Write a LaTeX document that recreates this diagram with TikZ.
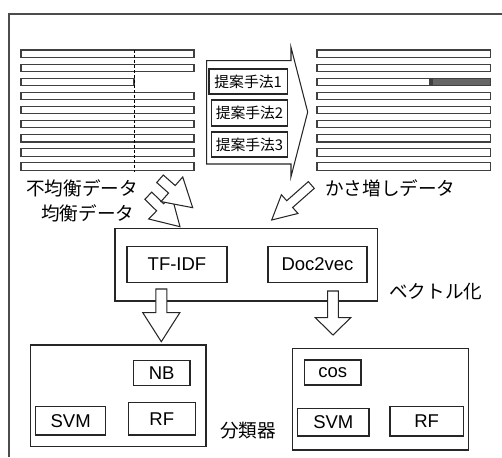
\documentclass[tikz,border=0pt]{standalone}
\usepackage{fontspec}
\setmainfont{Liberation Sans}
\newfontfamily\jp{Noto Sans CJK JP}
\usetikzlibrary{calc}

% outline of a hollow block arrow: tail, tip, shaft half-width, head half-width, head length
\newcommand\hollowarrow[5]{%
  \coordinate (neck) at ($(#2)!#5!(#1)$);
  \draw[hollow] ($(#1)!#3!90:(#2)$) -- ($(neck)!#3!90:(#2)$) -- ($(neck)!#4!90:(#2)$)
    -- (#2) -- ($(neck)!#4!-90:(#2)$) -- ($(neck)!#3!-90:(#2)$) -- ($(#1)!#3!-90:(#2)$) -- cycle;
}

\begin{document}
\begin{tikzpicture}[x=1pt,y=-1pt,
  line join=miter,
  ink/.style={draw=black!85, line width=1.05pt},
  box/.style={ink, fill=white, inner sep=0pt, anchor=center},
  bar/.style={draw=black!75, line width=1.05pt, fill=white},
  hollow/.style={ink, fill=white},
  lat/.style={font=\fontsize{18.5}{20}\selectfont},
  meth/.style={font=\jp\fontsize{14.8}{16}\selectfont},
  jlab/.style={font=\jp\fontsize{18.6}{20}\selectfont, anchor=west, inner sep=0pt}]
\useasboundingbox (0,0) rectangle (502,457);

% outer frame (top and left edges)
\draw[draw=black!70, line width=1.1pt] (502,14) -- (9,14) -- (9,457);

% original documents
\foreach \i in {0,1,3,4,5,6,7,8}
  \draw[bar] (21,{50+14.05*\i}) rectangle (194,{57.7+14.05*\i});
\draw[bar] (21,{50+14.05*2}) rectangle (134,{57.7+14.05*2});
\draw[black, line width=0.8pt, dash pattern=on 3pt off 2pt] (134,50) -- (134,172);

% augmented documents
\foreach \i in {0,1,3,4,5,6,7,8}
  \draw[bar] (317,{50+14.05*\i}) rectangle (490.7,{57.7+14.05*\i});
\draw[bar] (317,{50+14.05*2}) rectangle (430,{57.7+14.05*2});
\draw[bar, fill=black!60] (432,{50+14.05*2}) rectangle (490.7,{57.7+14.05*2});

% proposed methods inside a block arrow
\draw[hollow] (206.7,60.7) -- (291,60.7) -- (291,47.3) -- (307.7,112) -- (291,176.7)
  -- (291,164) -- (206.7,164) -- cycle;
\node[box, meth, minimum width=78.3pt, minimum height=25pt] (m1) at (248.15,81.5) {提案手法1};
\node[box, meth, minimum width=75.6pt, minimum height=26pt] (m2) at (249.5,113) {提案手法2};
\node[box, meth, minimum width=75.6pt, minimum height=25pt] (m3) at (249.5,144.5) {提案手法3};

% data labels
\node[jlab] (unbal) at (26,188) {不均衡データ};
\node[jlab] (bal) at (41,213) {均衡データ};
\node[jlab] (aug) at (325,188) {かさ増しデータ};

% vectorisation
\node[box, minimum width=262.7pt, minimum height=72.7pt] (vec) at (246.35,264.65) {};
\node[box, lat, minimum width=100pt, minimum height=35.6pt] (tfidf) at (177,264.5) {TF-IDF};
\node[box, lat, minimum width=99pt, minimum height=35.6pt] (d2v) at (317.5,264.5) {Doc2vec};
\node[jlab] (veclab) at (389,292) {ベクトル化};

% arrows into the vectorisation block
\coordinate (b-tail) at (148.3,195.7);
\coordinate (b-tip) at (180,226.7);
\hollowarrow{b-tail}{b-tip}{5pt}{16.4pt}{27.8pt}
\coordinate (u-tail) at (160,178.8);
\coordinate (u-tip) at (192.7,207.7);
\hollowarrow{u-tail}{u-tip}{5pt}{16.4pt}{27.8pt}
\coordinate (a-tail) at (311.3,185);
\coordinate (a-tip) at (271.7,220);
\hollowarrow{a-tail}{a-tip}{4.5pt}{12.5pt}{24pt}

% arrows into the classifiers
\coordinate (l-tail) at (161.3,289);
\coordinate (l-tip) at (161.3,341.7);
\hollowarrow{l-tail}{l-tip}{5.5pt}{18.5pt}{29pt}
\coordinate (r-tail) at (333,291);
\coordinate (r-tip) at (333,335);
\hollowarrow{r-tail}{r-tip}{5.3pt}{17.7pt}{17.3pt}

% classifiers
\node[box, minimum width=175.3pt, minimum height=101.7pt] (clfL) at (118.35,395.85) {};
\node[box, lat, minimum width=56.7pt, minimum height=25pt] (nb) at (161.65,373.2) {NB};
\node[box, lat, minimum width=70pt, minimum height=28.3pt] (svmL) at (70.7,420.85) {SVM};
\node[box, lat, minimum width=67pt, minimum height=32.3pt] (rfL) at (161.8,418.85) {RF};

\node[box, minimum width=175.6pt, minimum height=101.7pt] (clfR) at (380.5,399.15) {};
\node[box, lat, minimum width=56.7pt, minimum height=25pt] (cos) at (332.65,372.5) {cos};
\node[box, lat, minimum width=71.3pt, minimum height=27.7pt] (svmR) at (333.35,422.15) {SVM};
\node[box, lat, minimum width=73.3pt, minimum height=29.3pt] (rfR) at (426.65,421.35) {RF};

\node[jlab] (clflab) at (220,431) {分類器};
\end{tikzpicture}
\end{document}
